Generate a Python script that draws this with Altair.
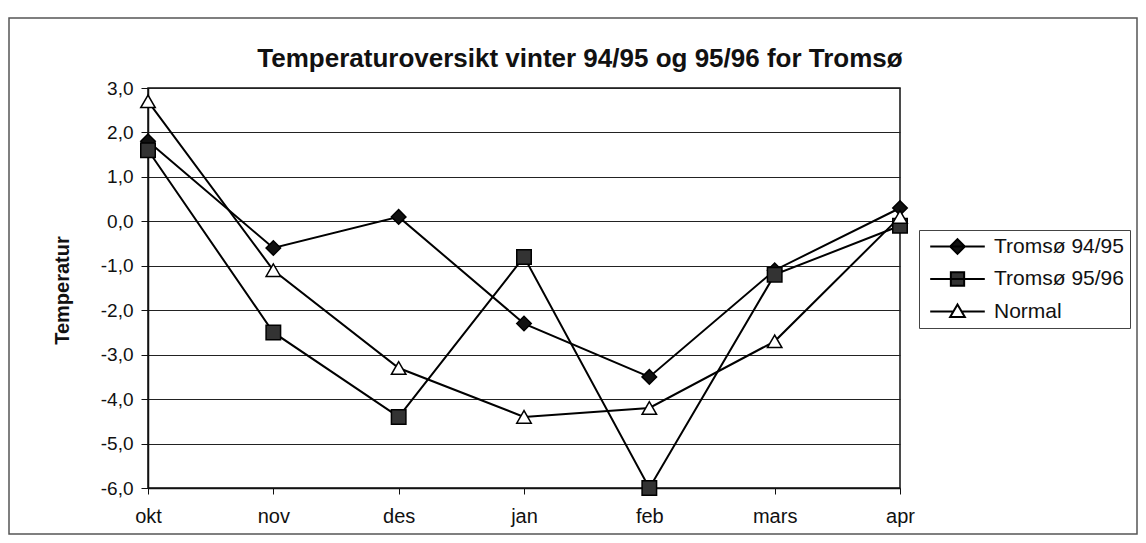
import altair as alt
import pandas as pd

months = ["okt", "nov", "des", "jan", "feb", "mars", "apr"]
series_names = ["Tromsø 94/95", "Tromsø 95/96", "Normal"]
t9495 = [1.8, -0.6, 0.1, -2.3, -3.5, -1.1, 0.3]
t9596 = [1.6, -2.5, -4.4, -0.8, -6.0, -1.2, -0.1]
normal = [2.7, -1.1, -3.3, -4.4, -4.2, -2.7, 0.1]
y_ticks = [3, 2, 1, 0, -1, -2, -3, -4, -5, -6]
title_text = "Temperaturoversikt vinter 94/95 og 95/96 for Tromsø"

rows = []
for name, vals in zip(series_names, [t9495, t9596, normal]):
    for i, (m, v) in enumerate(zip(months, vals)):
        rows.append({"series": name, "month": m, "idx": i, "temp": v})
df = pd.DataFrame(rows)

FONT = "Liberation Sans"

x_enc = alt.X("month:N", sort=months,
              scale=alt.Scale(domain=months, padding=0),
              axis=alt.Axis(title=None, labelFontSize=20, labelFont=FONT, labelColor="#111",
                            labelAngle=0, tickSize=6, tickColor="#111", labelPadding=12,
                            domainColor="#111", domainWidth=1.5, grid=False))
y_enc = alt.Y("temp:Q", scale=alt.Scale(domain=[-6, 3], nice=False, zero=False),
              axis=alt.Axis(title="Temperatur", values=y_ticks,
                            labelExpr="replace(replace(format(datum.value, '.1f'), '.', ','), '\u2212', '-')",
                            labelFontSize=19, labelFont=FONT, labelColor="#111", tickSize=7,
                            tickColor="#111", labelPadding=8, domainColor="#111", domainWidth=1.5,
                            grid=True, gridColor="#222", gridWidth=1, gridOpacity=1,
                            titleFont=FONT, titleFontSize=20, titleFontWeight="bold", titleColor="#111",
                            titleAngle=270, titleX=-86, titleY=202, titleAlign="center",
                            titleBaseline="middle"))

base = alt.Chart(df)

lines = base.mark_line(color="black", strokeWidth=2).encode(
    x=x_enc, y=y_enc, detail="series:N", order="idx:Q")

points = base.mark_point(opacity=1, stroke="black", strokeWidth=1.5, size=210).encode(
    x=x_enc, y=y_enc,
    shape=alt.Shape("series:N", scale=alt.Scale(domain=series_names,
                                                 range=["diamond", "square", "triangle-up"]),
                    legend=None),
    fill=alt.Fill("series:N", scale=alt.Scale(domain=series_names,
                                               range=["#111111", "#333333", "#ffffff"]),
                  legend=None),
)

leg_paths = [
    "M-3.9,0H3.9M0,-1.05L1.05,0L0,1.05L-1.05,0Z",
    "M-3.9,0H3.9M-0.95,-0.95H0.95V0.95H-0.95Z",
    "M-3.9,0H-0.55M0.55,0H3.9M0,-1L1.05,0.8H-1.05Z",
]
legend_layer = base.mark_point(opacity=1, strokeWidth=2, filled=False).encode(
    x=x_enc, y=y_enc,
    shape=alt.Shape("series:N", scale=alt.Scale(domain=series_names, range=leg_paths),
                    legend=alt.Legend(title=None)),
    fill=alt.Fill("series:N", scale=alt.Scale(domain=series_names,
                                               range=["#111111", "#333333", "#ffffff"]),
                  legend=alt.Legend(title=None)),
    stroke=alt.Stroke("series:N", scale=alt.Scale(domain=series_names,
                                                   range=["#000000", "#000000", "#000000"]),
                      legend=alt.Legend(title=None)),
).transform_filter("false")

frame = alt.Chart(alt.Data(values=[{"a": 1}])).mark_rect(
    fill=None, stroke="#555", strokeWidth=1.5, clip=False).encode(
    x=alt.value(-139), x2=alt.value(989), y=alt.value(-70), y2=alt.value(446))

title = alt.Chart(alt.Data(values=[{"t": title_text}])).mark_text(
    font=FONT, fontSize=26, fontWeight="bold", color="#111", align="center",
    baseline="alphabetic").encode(
    text="t:N", x=alt.value(432), y=alt.value(-21))

chart = alt.layer(frame, title, lines, points, legend_layer).resolve_scale(
    shape="independent", fill="independent", stroke="independent"
).properties(
    width=752, height=400,
    autosize=alt.AutoSizeParams(type="none"),
    padding={"left": 140, "top": 80, "right": 238, "bottom": 47},
).configure_view(stroke="#111", strokeWidth=1.5).configure_legend(
    orient="none", legendX=771, legendY=142, strokeColor="#444", fillColor="white",
    padding=6, labelFont=FONT, labelFontSize=21, labelColor="#111", symbolSize=196,
    symbolOffset=22, labelOffset=26, rowPadding=9.5, symbolStrokeColor="black",
    symbolStrokeWidth=2,
)

chart.save("out.html", embed_options={"renderer": "svg", "actions": False})
